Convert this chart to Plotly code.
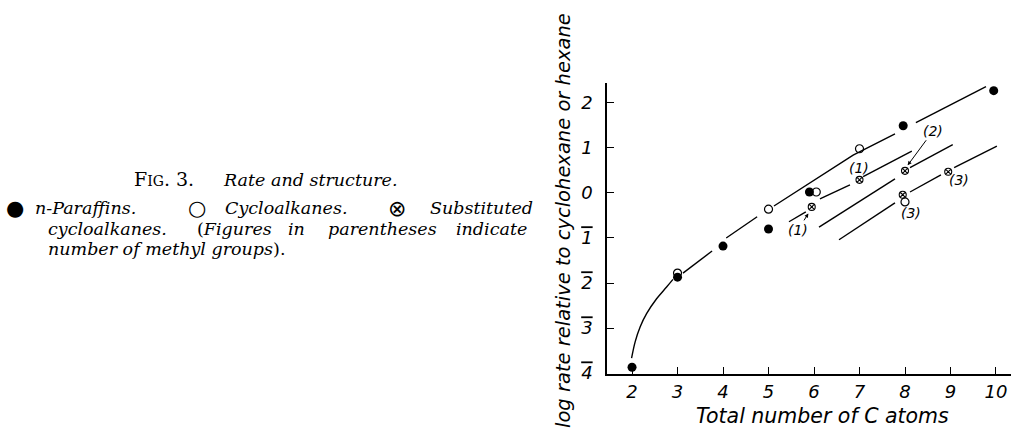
import plotly.graph_objects as go

# ---------------- data ----------------
paraffin_x = [2, 3, 4, 5, 5.9, 7.96, 9.95]
paraffin_y = [-3.87, -1.87, -1.18, -0.8, 0.02, 1.49, 2.27]

cyclo_x = [3, 5, 6.05, 7, 8]
cyclo_y = [-1.78, -0.36, 0.02, 0.98, -0.2]

subst_x = [5.95, 7, 8, 8.95, 7.95]
subst_y = [-0.31, 0.29, 0.49, 0.47, -0.04]

# curve for n-paraffins / parent cycloalkanes (broken around points)
main_curve_x = [1.99, 2.07, 2.18, 2.32, 2.54, 2.76, 2.9]
main_curve_y = [-3.67, -3.30, -2.97, -2.68, -2.35, -2.09, -1.92]
main_line_x = [3.12, 3.76, None, 4.07, 4.75, None, 5.12, 6.86, 7.78, None, 8.24, 9.78]
main_line_y = [-1.78, -1.29, None, -1.0, -0.53, None, -0.29, 0.84, 1.31, None, 1.56, 2.36]

methyl1_x = [5.45, 5.82, None, 6.13, 6.79, None, 7.08, 8.15]
methyl1_y = [-0.64, -0.42, None, -0.13, 0.18, None, 0.36, 0.93]

methyl2_x = [6.11, 7.78, None, 8.11, 9.05]
methyl2_y = [-0.76, 0.31, None, 0.56, 1.07]

methyl3_x = [6.55, 7.78, None, 8.11, 8.79, None, 9.08, 10.02]
methyl3_y = [-1.04, -0.22, None, 0.02, 0.4, None, 0.56, 1.04]

x_ticks = [2, 3, 4, 5, 6, 7, 8, 9, 10]
x_tick_text = ["2", "3", "4", "5", "6", "7", "8", "9", "10"]
y_ticks = [-4, -3, -2, -1, 0, 1, 2]
OV = "<span style='text-decoration:overline'>{}</span>"
y_tick_text = [OV.format("4"), OV.format("3"), OV.format("2"), OV.format("1"), "0", "1", "2"]

# labels: (text, x, y, arrow_x, arrow_y)
methyl_labels = [
    ("(1)", 5.65, -0.82, 5.91, -0.40),
    ("(1)", 6.99, 0.56, None, None),
    ("(2)", 8.62, 1.38, 8.02, 0.56),
    ("(3)", 9.19, 0.29, None, None),
    ("(3)", 8.13, -0.44, None, None),
]

x_title = "Total number of C atoms"
y_title = "log rate relative to cyclohexane or hexane"

# ---------------- layout helpers ----------------
W, H = 1011, 432
L, R, T, B = 607, 0, 83, 58
PW, PH = W - L - R, H - T - B


def PX(px):
    return (px - L) / PW


def PY(py):
    return (H - B - py) / PH


AX_FONT = dict(family="DejaVu Sans", size=18, color="black", style="italic")
SERIF = "DejaVu Serif"
CAP = 17.5

fig = go.Figure()

line_style = dict(color="black", width=1.4)
fig.add_trace(go.Scatter(x=main_curve_x, y=main_curve_y, mode="lines",
                         line=dict(shape="spline", smoothing=1.0, **line_style), showlegend=False))
for xs, ys in [(main_line_x, main_line_y), (methyl1_x, methyl1_y),
               (methyl2_x, methyl2_y), (methyl3_x, methyl3_y)]:
    fig.add_trace(go.Scatter(x=xs, y=ys, mode="lines", line=line_style,
                             connectgaps=False, showlegend=False))

fig.add_trace(go.Scatter(x=paraffin_x, y=paraffin_y, mode="markers",
                         marker=dict(symbol="circle", size=9, color="black"),
                         name="n-Paraffins", showlegend=False))
fig.add_trace(go.Scatter(x=cyclo_x, y=cyclo_y, mode="markers",
                         marker=dict(symbol="circle-open", size=8, color="black",
                                     line=dict(width=1.2, color="black")),
                         name="Cycloalkanes", showlegend=False))
fig.add_trace(go.Scatter(x=subst_x, y=subst_y, mode="markers",
                         marker=dict(symbol="circle-x-open", size=7, color="black",
                                     line=dict(width=1.1, color="black")),
                         name="Substituted cycloalkanes", showlegend=False))

annotations = []
for text, tx, ty, hx, hy in methyl_labels:
    if hx is None:
        annotations.append(dict(x=tx, y=ty, xref="x", yref="y", text=f"<i>{text}</i>",
                                showarrow=False, font=dict(family="DejaVu Sans", size=14, color="black")))
    else:
        annotations.append(dict(x=hx, y=hy, xref="x", yref="y", ax=tx, ay=ty,
                                axref="x", ayref="y", text=f"<i>{text}</i>",
                                showarrow=True, arrowhead=2, arrowsize=0.8, arrowwidth=1,
                                arrowcolor="black", standoff=3,
                                font=dict(family="DejaVu Sans", size=14, color="black")))

# axis titles
annotations.append(dict(x=PX(563), y=PY(221), xref="paper", yref="paper", text=y_title,
                        textangle=-90, showarrow=False,
                        font=dict(family="DejaVu Sans", size=19.5, color="black", style="italic"),
                        xanchor="center", yanchor="middle"))
annotations.append(dict(x=PX(822), y=PY(416), xref="paper", yref="paper", text=x_title,
                        showarrow=False,
                        font=dict(family="DejaVu Sans", size=20.5, color="black", style="italic"),
                        xanchor="center", yanchor="middle"))

# caption
caption = [
    ("<span style='font-size:19px'>F</span><span style='font-size:14px'>IG</span>"
     "<span style='font-size:19px'>. 3.</span>", 133, 179),
    ("<i>Rate and structure.</i>", 222, 180),
    ("<i>n-Paraffins.</i>", 34, 208),
    ("<i>Cycloalkanes.</i>", 224, 208),
    ("<i>Substituted</i>", 429, 208),
    ("<i>cycloalkanes.</i>", 47, 229),
    ("(<i>Figures</i>", 196, 229),
    ("<i>in</i>", 287, 229),
    ("<i>parentheses</i>", 327, 229),
    ("<i>indicate</i>", 455, 229),
    ("<i>number of methyl groups</i>).", 47, 249),
]
for text, px, py in caption:
    annotations.append(dict(x=PX(px), y=PY(py), xref="paper", yref="paper", text=text,
                            showarrow=False, xanchor="left", yanchor="middle",
                            font=dict(family=SERIF, size=CAP, color="black"), borderpad=0))
symbols = [("\u25CF", 15, 208, 21), ("\u25CB", 197, 208, 21), ("\u2297", 397, 208, 22)]
for text, px, py, fs in symbols:
    annotations.append(dict(x=PX(px), y=PY(py), xref="paper", yref="paper", text=text,
                            showarrow=False, xanchor="center", yanchor="middle",
                            font=dict(family="DejaVu Sans", size=fs, color="black")))

fig.update_layout(
    width=W, height=H,
    margin=dict(l=L, r=R, t=T, b=B),
    paper_bgcolor="white", plot_bgcolor="white",
    annotations=annotations,
    xaxis=dict(range=[1.45, 10.33], tickvals=x_ticks, ticktext=x_tick_text,
               showgrid=False, zeroline=False, showline=True, linecolor="black", linewidth=1.5,
               ticks="inside", ticklen=7, tickwidth=1.2, tickcolor="black",
               tickfont=AX_FONT, ticklabelstandoff=1),
    yaxis=dict(range=[-4.02, 2.44], tickvals=y_ticks, ticktext=y_tick_text,
               showgrid=False, zeroline=False, showline=True, linecolor="black", linewidth=1.5,
               ticks="inside", ticklen=7, tickwidth=1.2, tickcolor="black",
               tickfont=AX_FONT, ticklabelstandoff=9),
)

fig.write_html("out.html", config={"displayModeBar": False},
               post_script="document.body.style.margin='0';")
